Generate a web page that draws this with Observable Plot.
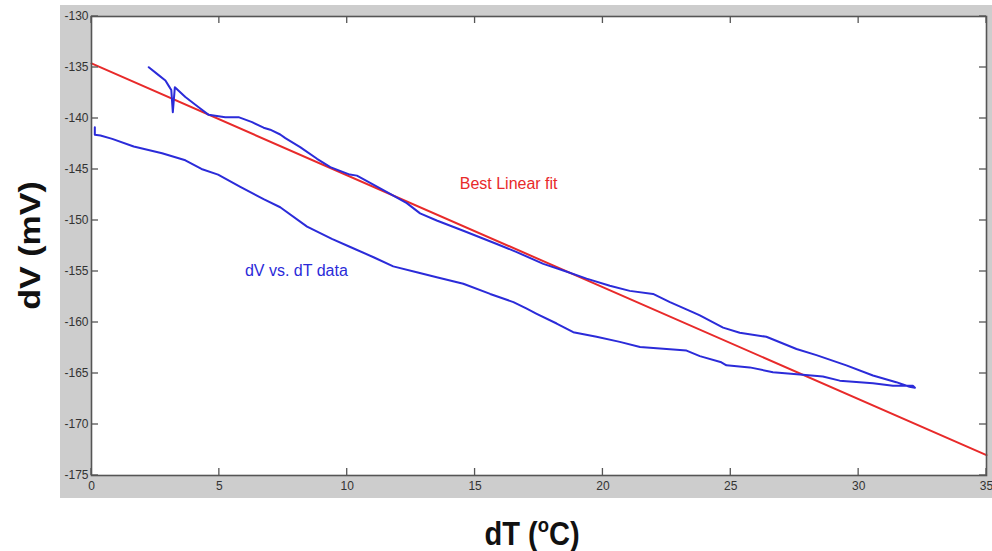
<!DOCTYPE html>
<html><head><meta charset="utf-8">
<script src="https://cdn.jsdelivr.net/npm/d3@7"></script>
<script src="https://cdn.jsdelivr.net/npm/@observablehq/plot@0.6"></script>
<style>
html,body{margin:0;padding:0;background:#fff;}
#wrap{position:relative;width:992px;height:551px;overflow:hidden;}
#panel{position:absolute;left:60px;top:5px;width:932px;height:493px;background:#cdcdcd;}
#chart{position:absolute;left:0;top:0;}
</style></head><body>
<div id="wrap"><div id="panel"></div><div id="chart"></div></div>
<script>
// Tick values
const xTicks = [0, 5, 10, 15, 20, 25, 30, 35];
const yTicks = [-130, -135, -140, -145, -150, -155, -160, -165, -170, -175];

// Best linear fit (end points)
const fitT = [0, 35];
const fitV = [-134.6, -173.0];

// Measured dV vs dT data (one continuous loop: lower branch out, upper branch back)
const dataT = [
  0.13, 0.13, 0.35, 0.81, 1.65, 2.76, 3.67, 4.30, 4.95, 5.82, 6.73, 7.38, 8.43, 9.40,
  10.12, 11.03, 11.80, 12.72, 13.50, 14.54, 15.59, 16.50, 17.02, 17.41, 18.19, 18.84,
  19.75, 20.66, 21.45, 22.49, 23.27, 23.79, 24.63, 24.83, 25.74, 26.65, 27.70, 28.60,
  29.26, 30.56, 31.34, 32.12, 32.20,
  31.99, 31.47, 30.56, 29.52, 28.35, 27.57, 26.39, 25.35, 24.70, 23.79, 23.53, 22.62,
  21.96, 21.05, 20.27, 19.36, 18.45, 17.67, 16.63, 15.85, 14.54, 13.50, 12.85, 12.33,
  11.68, 10.38, 10.10, 9.34, 8.82, 8.16, 7.58, 7.38, 6.99, 6.73, 6.28, 5.75, 5.23,
  4.58, 4.19, 3.67, 3.26, 3.18, 3.12, 3.02, 2.89, 2.60, 2.24
];
const dataV = [
  -140.85, -141.60, -141.67, -142.00, -142.75, -143.40, -144.10, -144.95, -145.50, -146.70, -147.90, -148.70, -150.60, -151.80,
  -152.60, -153.60, -154.50, -155.07, -155.56, -156.20, -157.20, -158.00, -158.65, -159.15, -160.10, -160.95,
  -161.40, -161.90, -162.40, -162.60, -162.75, -163.30, -163.90, -164.20, -164.40, -164.87, -165.10, -165.30,
  -165.70, -165.95, -166.20, -166.20, -166.40,
  -166.30, -165.85, -165.20, -164.20, -163.20, -162.60, -161.40, -161.00, -160.50, -159.30, -159.00, -158.00,
  -157.20, -156.90, -156.40, -155.70, -154.90, -154.25, -153.10, -152.30, -151.00, -150.00, -149.30, -148.30,
  -147.40, -145.60, -145.50, -144.77, -143.95, -142.80, -141.93, -141.57, -141.10, -140.90, -140.36, -139.87, -139.87,
  -139.64, -138.90, -137.90, -136.93, -139.38, -137.20, -136.80, -136.27, -135.70, -134.97
];

const fitLabel = "Best Linear fit";
const dataLabel = "dV vs. dT data";
const xLabel = "dT (";
const yLabel = "dV (mV)";

const blue = "#2b2bd9";
const red = "#e82a2a";

const fitRows = fitT.map((t, i) => ({t, v: fitV[i]}));
const dataRows = dataT.map((t, i) => ({t, v: dataV[i]}));

const plot = Plot.plot({
  width: 992,
  height: 551,
  marginLeft: 91,
  marginRight: 6,
  marginTop: 16,
  marginBottom: 76,
  style: {background: "transparent", fontFamily: "'Liberation Sans', Arial, sans-serif", color: "#333"},
  x: {domain: [0, 35]},
  y: {domain: [-175, -130]},
  marks: [
    Plot.frame({fill: "white", stroke: null}),
    Plot.axisX(xTicks, {tickSize: 0, tickPadding: 6, fontSize: 12, fill: "#333", tickFormat: d => String(d), label: null}),
    Plot.axisY(yTicks, {tickSize: 0, tickPadding: 3, fontSize: 12, fill: "#333", tickFormat: d => String(d), label: null}),
    Plot.line(fitRows, {x: "t", y: "v", stroke: red, strokeWidth: 2}),
    Plot.line(dataRows, {x: "t", y: "v", stroke: blue, strokeWidth: 2, curve: "linear"}),
    Plot.text([fitLabel], {x: 14.4, y: -146.4, text: d => d, fill: red, fontSize: 16, textAnchor: "start", lineAnchor: "middle"}),
    Plot.text([dataLabel], {x: 6.0, y: -154.9, text: d => d, fill: blue, fontSize: 16, textAnchor: "start", lineAnchor: "middle"}),
    Plot.frame({stroke: "#555", strokeWidth: 1.6})
  ]
});

document.getElementById("chart").appendChild(plot);

// MATLAB-style inward ticks on all four sides, placed with Plot's own scales
const sx = plot.scale("x"), sy = plot.scale("y");
const svg = d3.select(plot);
const x0 = sx.apply(0), x1 = sx.apply(35), y0 = sy.apply(-175), y1 = sy.apply(-130);
const L = 7;
const g = svg.append("g").attr("stroke", "#555").attr("stroke-width", 1.3);
for (const t of xTicks) {
  const px = sx.apply(t);
  g.append("line").attr("x1", px).attr("x2", px).attr("y1", y0).attr("y2", y0 - L);
  g.append("line").attr("x1", px).attr("x2", px).attr("y1", y1).attr("y2", y1 + L);
}
for (const t of yTicks) {
  const py = sy.apply(t);
  g.append("line").attr("y1", py).attr("y2", py).attr("x1", x0).attr("x2", x0 + L);
  g.append("line").attr("y1", py).attr("y2", py).attr("x1", x1).attr("x2", x1 - L);
}

// Axis titles
svg.append("text")
  .attr("transform", `translate(30,${(y0 + y1) / 2}) rotate(-90) scale(1,0.88)`)
  .attr("text-anchor", "middle").attr("dominant-baseline", "central")
  .attr("font-family", "'Liberation Sans', Arial, sans-serif").attr("font-weight", "bold")
  .attr("font-size", 34).attr("fill", "#111")
  .text(yLabel);

const xt = svg.append("text")
  .attr("transform", "translate(532,545) scale(0.88,1)")
  .attr("text-anchor", "middle")
  .attr("font-family", "'Liberation Sans', Arial, sans-serif").attr("font-weight", "bold")
  .attr("font-size", 33).attr("fill", "#111");
xt.append("tspan").text(xLabel);
xt.append("tspan").attr("font-size", 21).attr("dy", -13).text("o");
xt.append("tspan").attr("dy", 13).text("C)");
</script>
</body></html>
